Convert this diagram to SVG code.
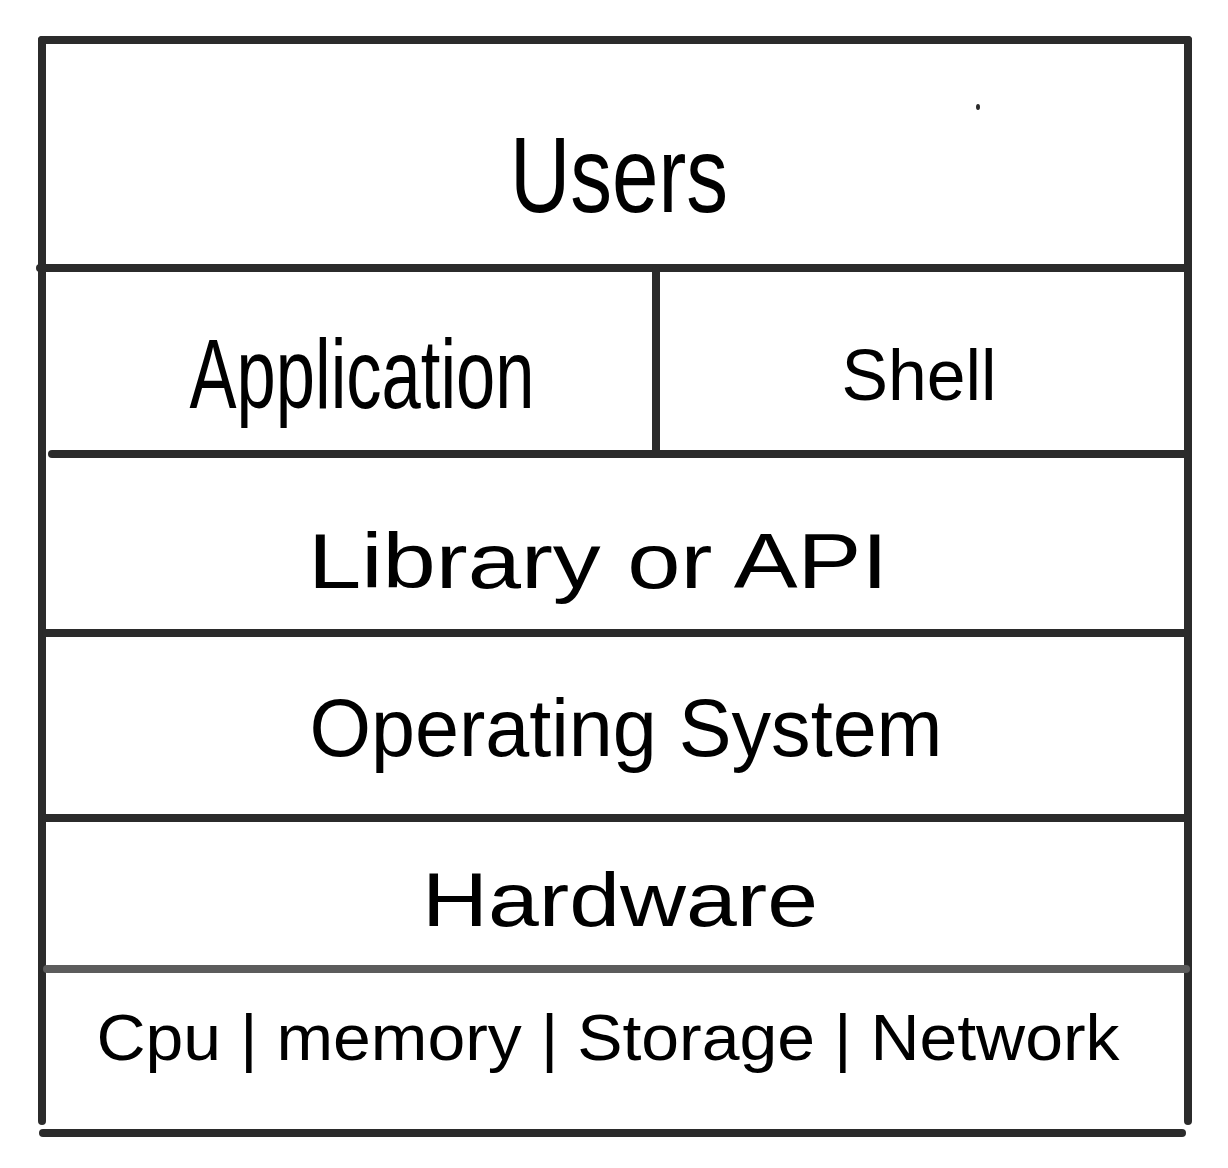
<svg xmlns="http://www.w3.org/2000/svg" width="1228" height="1168" viewBox="0 0 1228 1168">
<style>
.ln{stroke:#2b2b2b;stroke-width:8;stroke-linecap:round;fill:none}
.gr{stroke:#5c5c5c}
.t{font-family:"Liberation Sans","DejaVu Sans",sans-serif;fill:#000;text-anchor:middle}
</style>
<rect width="1228" height="1168" fill="#fff"/>
<g id="connectors">
<line class="ln" x1="42" y1="40" x2="1188" y2="40"/>
<line class="ln" x1="42" y1="40" x2="42" y2="1121"/>
<line class="ln" x1="1188" y1="40" x2="1188" y2="1121"/>
<line class="ln" x1="40" y1="268" x2="1186" y2="268"/>
<line class="ln" x1="656" y1="270" x2="656" y2="452"/>
<line class="ln" x1="52" y1="454" x2="1186" y2="454"/>
<line class="ln" x1="46" y1="633" x2="1186" y2="633"/>
<line class="ln" x1="46" y1="818" x2="1186" y2="818"/>
<line class="ln gr" x1="47" y1="969" x2="1186" y2="969"/>
<line class="ln" x1="43" y1="1133" x2="1182" y2="1133"/>
<ellipse cx="978" cy="107" rx="2" ry="3" fill="#2b2b2b"/>
</g>
<g id="users"><text class="t" x="619" y="212" font-size="108" textLength="218" lengthAdjust="spacingAndGlyphs">Users</text></g>
<g id="application"><text class="t" x="362" y="408" font-size="98" textLength="345" lengthAdjust="spacingAndGlyphs">Application</text></g>
<g id="shell"><text class="t" x="919" y="400" font-size="72" textLength="155" lengthAdjust="spacingAndGlyphs">Shell</text></g>
<g id="library"><text class="t" x="598" y="588" font-size="78" textLength="580" lengthAdjust="spacingAndGlyphs">Library or API</text></g>
<g id="os"><text class="t" x="626" y="756" font-size="82" textLength="633" lengthAdjust="spacingAndGlyphs">Operating System</text></g>
<g id="hardware"><text class="t" x="620" y="926" font-size="76" textLength="396" lengthAdjust="spacingAndGlyphs">Hardware</text></g>
<g id="components"><text class="t" x="608" y="1060" font-size="64" textLength="1023" lengthAdjust="spacingAndGlyphs">Cpu | memory | Storage | Network</text></g>
</svg>
